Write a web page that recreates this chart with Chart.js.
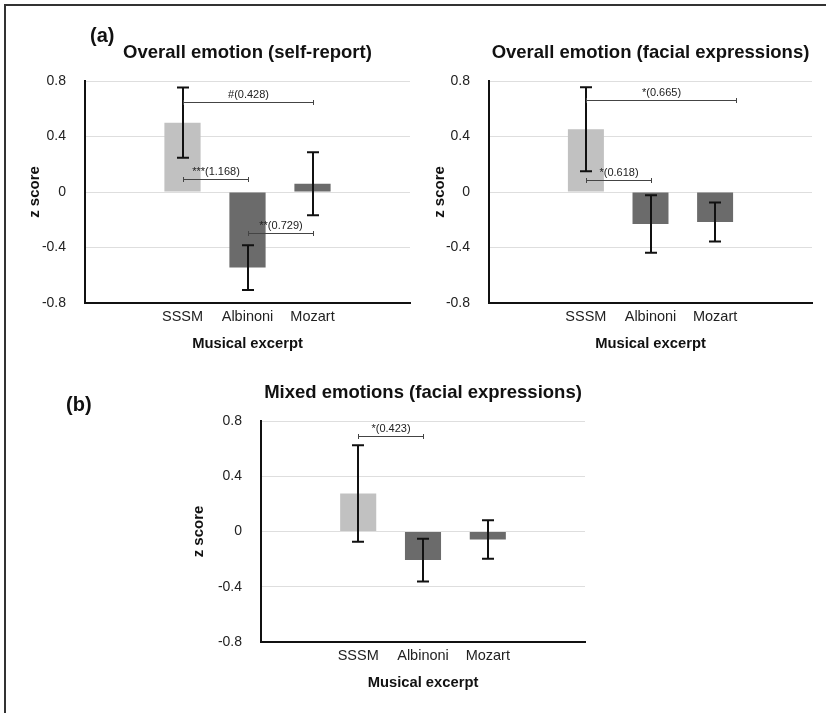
<!DOCTYPE html>
<html>
<head>
<meta charset="utf-8">
<script src="https://cdn.jsdelivr.net/npm/chart.js@4.4.1/dist/chart.umd.min.js"></script>
<style>
html, body { margin: 0; padding: 0; background: #fff; }
body { width: 826px; height: 713px; position: relative; overflow: hidden; }
canvas { position: absolute; }
#frame { position: absolute; left: 4px; top: 4px; width: 822px; height: 709px; border-top: 2px solid #333; border-left: 2px solid #333; box-sizing: border-box; }
</style>
</head>
<body>
<div id="frame"></div>
<canvas id="chartA" style="left:0px;top:0px" width="420" height="360"></canvas>
<canvas id="chartB" style="left:410px;top:0px" width="416" height="360"></canvas>
<canvas id="chartC" style="left:0px;top:350px" width="600" height="349"></canvas>
<script>
// ---------------- data ----------------
const categories = ['SSSM', 'Albinoni', 'Mozart'];
const yTickValues = [-0.8, -0.4, 0, 0.4, 0.8];
const yTickLabels = ['-0.8', '-0.4', '0', '0.4', '0.8'];

const selfReportMeans  = [0.50, -0.545, 0.06];
const selfReportErrors = [0.253, 0.162, 0.227];
const selfReportComparisons = [
  { label: '#(0.428)',   from: 0, to: 2, y: 0.65 },
  { label: '***(1.168)', from: 0, to: 1, y: 0.094 },
  { label: '**(0.729)',  from: 1, to: 2, y: -0.293 }
];

const facialOverallMeans  = [0.452, -0.23, -0.216];
const facialOverallErrors = [0.303, 0.207, 0.14];
const facialOverallComparisons = [
  { label: '*(0.665)', from: 0, to: 2.33, y: 0.661 },
  { label: '*(0.618)', from: 0, to: 1,    y: 0.086 }
];

const mixedMeans  = [0.275, -0.207, -0.058];
const mixedErrors = [0.35, 0.155, 0.14];
const mixedComparisons = [
  { label: '*(0.423)', from: 0, to: 1, y: 0.695 }
];

// ---------------- styling ----------------
const FONT = '"Liberation Sans", Arial, Helvetica, sans-serif';
Chart.defaults.font.family = FONT;
const LIGHT = '#c1c1c1';
const DARK = '#6b6b6b';
const paddedLabels = ['', ...categories, ''];

function overlay(means, errors, comps, panelLabel) {
  return {
    id: 'overlay',
    afterDatasetsDraw(chart) {
      const { ctx } = chart;
      const x = chart.scales.x, y = chart.scales.y;
      ctx.save();
      // error bars
      ctx.strokeStyle = '#111';
      ctx.lineWidth = 2;
      means.forEach((m, i) => {
        const px = Math.round(x.getPixelForValue(i + 1));
        const top = y.getPixelForValue(m + errors[i]);
        const bot = y.getPixelForValue(m - errors[i]);
        ctx.beginPath();
        ctx.moveTo(px, top); ctx.lineTo(px, bot);
        ctx.moveTo(px - 6, top); ctx.lineTo(px + 6, top);
        ctx.moveTo(px - 6, bot); ctx.lineTo(px + 6, bot);
        ctx.stroke();
      });
      // comparison brackets
      ctx.lineWidth = 1;
      ctx.strokeStyle = '#444';
      ctx.fillStyle = '#222';
      ctx.font = '11px ' + FONT;
      ctx.textAlign = 'center';
      ctx.textBaseline = 'middle';
      comps.forEach(c => {
        const x1 = Math.round(x.getPixelForValue(c.from + 1)) + 0.5;
        const x2 = Math.round(x.getPixelForValue(c.to + 1)) + 0.5;
        const py = Math.round(y.getPixelForValue(c.y)) + 0.5;
        ctx.beginPath();
        ctx.moveTo(x1, py); ctx.lineTo(x2, py);
        ctx.moveTo(x1, py - 2.5); ctx.lineTo(x1, py + 2.5);
        ctx.moveTo(x2, py - 2.5); ctx.lineTo(x2, py + 2.5);
        ctx.stroke();
        ctx.fillText(c.label, (x1 + x2) / 2, py - 7.5);
      });
      ctx.restore();
    },
    afterDraw(chart) {
      if (!panelLabel) return;
      const { ctx } = chart;
      ctx.save();
      ctx.fillStyle = '#111';
      ctx.font = 'bold 20px ' + FONT;
      ctx.textAlign = 'left';
      ctx.textBaseline = 'middle';
      ctx.fillText(panelLabel.text, panelLabel.x, panelLabel.y);
      ctx.restore();
    }
  };
}

function makeChart(id, cfg) {
  return new Chart(document.getElementById(id), {
    type: 'bar',
    data: {
      labels: paddedLabels,
      datasets: [{
        data: [null, ...cfg.means, null],
        backgroundColor: ['rgba(0,0,0,0)', LIGHT, DARK, DARK, 'rgba(0,0,0,0)'],
        borderWidth: 0,
        barPercentage: 0.557,
        categoryPercentage: 1
      }]
    },
    options: {
      responsive: false,
      animation: false,
      events: [],
      layout: { padding: { top: cfg.padTop, right: cfg.padRight, left: 0, bottom: 0 } },
      plugins: {
        legend: { display: false },
        tooltip: { enabled: false },
        title: {
          display: true,
          fullSize: false,
          text: cfg.title,
          color: '#111',
          font: { size: 18.5, weight: 'bold', family: FONT, lineHeight: 1.2 },
          padding: { top: 0, bottom: cfg.titleGap }
        }
      },
      scales: {
        x: {
          grid: { display: false, drawTicks: false },
          border: { display: true, color: '#111', width: 2 },
          ticks: { color: '#222', font: { size: 14.5, family: FONT, lineHeight: 1.2 }, padding: 5.3, maxRotation: 0, autoSkip: false },
          title: {
            display: true, text: 'Musical excerpt', color: '#111',
            font: { size: 14.75, weight: 'bold', family: FONT, lineHeight: 1.2 },
            padding: { top: 0, bottom: 7.15 }
          },
          afterFit(s) { s.height = 57; }
        },
        y: {
          min: -0.8, max: 0.8,
          afterBuildTicks(s) { s.ticks = yTickValues.map(v => ({ value: v })); },
          grid: {
            drawTicks: false,
            lineWidth: 1,
            color: c => (c.tick && Math.abs(c.tick.value + 0.8) < 1e-9) ? 'rgba(0,0,0,0)' : '#dedede'
          },
          border: { display: true, color: '#111', width: 2 },
          ticks: {
            color: '#222',
            font: { size: 14, family: FONT, lineHeight: 1.2 },
            padding: 19,
            callback: (v) => {
              const i = yTickValues.findIndex(t => Math.abs(t - v) < 1e-9);
              return i >= 0 ? yTickLabels[i] : '';
            }
          },
          title: {
            display: true, text: 'z score', color: '#111',
            font: { size: 15, weight: 'bold', family: FONT, lineHeight: 1.2 },
            padding: { top: cfg.yTitlePad, bottom: 0 }
          },
          afterFit(s) { s.width = cfg.yWidth; }
        }
      }
    },
    plugins: [overlay(cfg.means, cfg.errors, cfg.comps, cfg.panelLabel)]
  });
}

makeChart('chartA', {
  title: 'Overall emotion (self-report)',
  means: selfReportMeans, errors: selfReportErrors, comps: selfReportComparisons,
  padTop: 41.9, titleGap: 16.9, padRight: 10, yWidth: 85, yTitlePad: 26,
  panelLabel: { text: '(a)', x: 90, y: 36 }
});
makeChart('chartB', {
  title: 'Overall emotion (facial expressions)',
  means: facialOverallMeans, errors: facialOverallErrors, comps: facialOverallComparisons,
  padTop: 41.9, titleGap: 16.9, padRight: 14, yWidth: 79, yTitlePad: 21,
  panelLabel: null
});
makeChart('chartC', {
  title: 'Mixed emotions (facial expressions)',
  means: mixedMeans, errors: mixedErrors, comps: mixedComparisons,
  padTop: 31.6, titleGap: 17.2, padRight: 15, yWidth: 261, yTitlePad: 190.3,
  panelLabel: { text: '(b)', x: 66, y: 55 }
});
</script>
</body>
</html>
